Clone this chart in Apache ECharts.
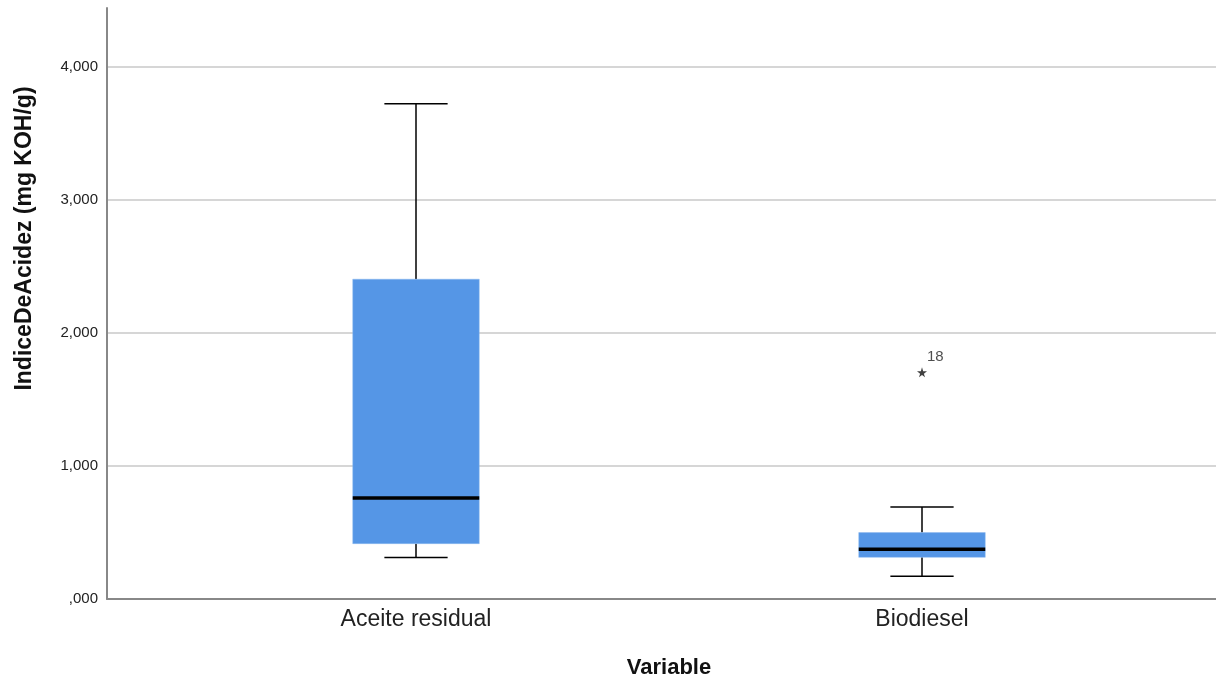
<!DOCTYPE html>
<html lang="es">
<head>
    <meta charset="UTF-8">
    <title>IndiceDeAcidez</title>
    <script src="https://cdn.jsdelivr.net/npm/echarts@6/dist/echarts.min.js"></script>
    <style>
        html, body { margin: 0; padding: 0; background: #fff; }
    </style>
</head>
<body>
<div id="chart" style="width:1216px;height:684px;"></div>
<script>
    // datos (valores en mg KOH/g)
    var categorias = ['Aceite residual', 'Biodiesel'];
    var minimos   = [0.304, 0.164];
    var q1        = [0.409, 0.306];
    var medianas  = [0.752, 0.366];
    var q3        = [2.399, 0.492];
    var maximos   = [3.720, 0.685];
    var atipicos  = [[1, 1.698]];
    var etiquetasAtipicos = ['18'];

    var fuente = 'Liberation Sans, Arial, sans-serif';
    var yMax = 4.44;

    var cajas = [];
    for (var i = 0; i < categorias.length; i++) {
        cajas.push([i, minimos[i], q1[i], medianas[i], q3[i], maximos[i]]);
    }

    function formatoSpss(v) {
        if (Math.abs(v - Math.round(v)) > 1e-6) return '';
        var s = v.toFixed(3).replace('.', ',');
        if (s.indexOf('0,') === 0) s = s.substring(1);
        return s;
    }

    function dibujarCaja(params, api) {
        var x = api.value(0);
        var pMin = api.coord([x, api.value(1)]);
        var pQ1 = api.coord([x, api.value(2)]);
        var pMed = api.coord([x, api.value(3)]);
        var pQ3 = api.coord([x, api.value(4)]);
        var pMax = api.coord([x, api.value(5)]);
        var banda = api.size([1, 0])[0];
        var ancho = banda * 0.25;
        var tapa = ancho / 2;
        var cx = pMed[0];
        var linea = { stroke: '#000', lineWidth: 1.5 };
        return {
            type: 'group',
            children: [
                { type: 'line', shape: { x1: cx, y1: pMin[1], x2: cx, y2: pQ1[1] }, style: linea },
                { type: 'line', shape: { x1: cx, y1: pQ3[1], x2: cx, y2: pMax[1] }, style: linea },
                { type: 'line', shape: { x1: cx - tapa / 2, y1: pMin[1], x2: cx + tapa / 2, y2: pMin[1] }, style: linea },
                { type: 'line', shape: { x1: cx - tapa / 2, y1: pMax[1], x2: cx + tapa / 2, y2: pMax[1] }, style: linea },
                { type: 'rect', shape: { x: cx - ancho / 2, y: pQ3[1], width: ancho, height: pQ1[1] - pQ3[1] },
                  style: { fill: '#5596E6', stroke: '#8DB8EE', lineWidth: 0.5 } },
                { type: 'line', shape: { x1: cx - ancho / 2, y1: pMed[1], x2: cx + ancho / 2, y2: pMed[1] },
                  style: { stroke: '#000', lineWidth: 3.5 } }
            ]
        };
    }

    var chart = echarts.init(document.getElementById('chart'));

    var option = {
        backgroundColor: '#fff',
        animation: false,
        grid: [
            { left: 107, right: 0, top: 8, bottom: 85 },
            { left: 163, right: 41, top: 8, bottom: 85 }
        ],
        xAxis: [
            {
                gridIndex: 0, type: 'value', min: 0, max: 1,
                axisLine: { show: true, lineStyle: { color: '#888', width: 2 } },
                axisTick: { show: false }, axisLabel: { show: false }, splitLine: { show: false }
            },
            {
                gridIndex: 1, type: 'category', data: categorias,
                axisLine: { show: false }, axisTick: { show: false },
                axisLabel: { fontFamily: fuente, fontSize: 23, color: '#222', margin: 10 },
                name: 'Variable', nameLocation: 'middle', nameGap: 59,
                nameTextStyle: { fontFamily: fuente, fontSize: 22, fontWeight: 'bold', color: '#111' }
            }
        ],
        yAxis: [
            {
                gridIndex: 0, type: 'value', min: 0, max: yMax, interval: 1,
                axisLine: { show: true, lineStyle: { color: '#888', width: 2 } },
                axisTick: { show: false },
                axisLabel: { fontFamily: fuente, fontSize: 15, color: '#222', margin: 9, formatter: formatoSpss, showMaxLabel: false },
                splitLine: { show: true, showMinLine: false, showMaxLine: false, lineStyle: { color: '#c8c8c8', width: 1.5 } },
                name: 'IndiceDeAcidez (mg KOH/g)', nameLocation: 'middle', nameGap: 71,
                nameTextStyle: { fontFamily: fuente, fontSize: 23, fontWeight: 'bold', color: '#111', padding: [0, 0, 0, 130] }
            },
            {
                gridIndex: 1, type: 'value', min: 0, max: yMax, show: false
            }
        ],
        series: [
            {
                type: 'custom', xAxisIndex: 1, yAxisIndex: 1,
                renderItem: dibujarCaja,
                encode: { x: 0, y: [1, 2, 3, 4, 5] },
                data: cajas
            },
            {
                type: 'scatter', xAxisIndex: 1, yAxisIndex: 1,
                symbol: 'path://M50,0 L61,35 L98,35 L68,57 L79,91 L50,70 L21,91 L32,57 L2,35 L39,35 Z',
                symbolSize: 10,
                itemStyle: { color: '#111' },
                label: {
                    show: true, position: [10, -18],
                    fontFamily: fuente, fontSize: 15, color: '#222',
                    formatter: function (p) { return etiquetasAtipicos[p.dataIndex]; }
                },
                data: atipicos
            }
        ]
    };

    chart.setOption(option);
</script>
</body>
</html>
